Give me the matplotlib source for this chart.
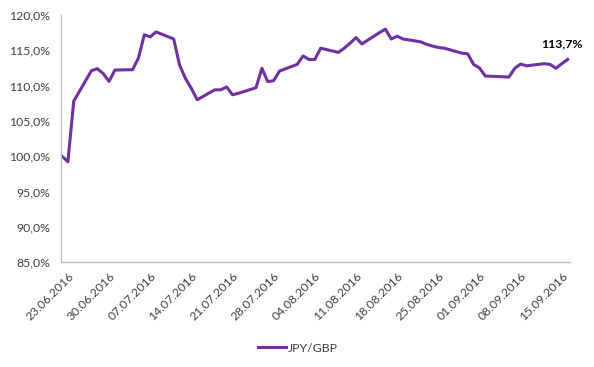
import datetime as dt
import matplotlib
matplotlib.use("Agg")
import matplotlib.pyplot as plt
from matplotlib.ticker import FuncFormatter, MultipleLocator

# JPY/GBP index, 22.06.2016 = 100%, weekdays
dates = [
    "22.06.2016", "23.06.2016", "24.06.2016", "27.06.2016", "28.06.2016",
    "29.06.2016", "30.06.2016", "01.07.2016", "04.07.2016", "05.07.2016",
    "06.07.2016", "07.07.2016", "08.07.2016", "11.07.2016", "12.07.2016",
    "13.07.2016", "14.07.2016", "15.07.2016", "18.07.2016", "19.07.2016",
    "20.07.2016", "21.07.2016", "22.07.2016", "25.07.2016", "26.07.2016",
    "27.07.2016", "28.07.2016", "29.07.2016", "01.08.2016", "02.08.2016",
    "03.08.2016", "04.08.2016", "05.08.2016", "08.08.2016", "09.08.2016",
    "10.08.2016", "11.08.2016", "12.08.2016", "15.08.2016", "16.08.2016",
    "17.08.2016", "18.08.2016", "19.08.2016", "22.08.2016", "23.08.2016",
    "24.08.2016", "25.08.2016", "26.08.2016", "29.08.2016", "30.08.2016",
    "31.08.2016", "01.09.2016", "02.09.2016", "05.09.2016", "06.09.2016",
    "07.09.2016", "08.09.2016", "09.09.2016", "12.09.2016", "13.09.2016",
    "14.09.2016", "15.09.2016", "16.09.2016",
]
values = [
    100.0, 99.2, 107.8, 112.1, 112.4,
    111.7, 110.6, 112.2, 112.25, 113.9,
    117.2, 116.9, 117.6, 116.6, 112.9,
    111.0, 109.6, 108.0, 109.4, 109.4,
    109.8, 108.7, 108.9, 109.7, 112.45,
    110.55, 110.7, 112.06, 113.0, 114.2,
    113.7, 113.7, 115.3, 114.7, 115.3,
    116.0, 116.8, 115.9, 117.5, 118.0,
    116.6, 117.0, 116.6, 116.2, 115.85,
    115.6, 115.4, 115.3, 114.6, 114.5,
    113.0, 112.5, 111.35, 111.25, 111.2,
    112.45, 113.05, 112.8, 113.1, 113.0,
    112.45, 113.1, 113.7,
]
series_name = "JPY/GBP"
last_label = "113,7%"

x = [dt.datetime.strptime(d, "%d.%m.%Y") for d in dates]
purple = "#7030A0"
axis_grey = "#BFBFBF"
text_col = "#404040"

plt.rcParams["font.family"] = ["Lato", "DejaVu Sans"]

fig = plt.figure(figsize=(5.94, 3.67), dpi=100)
ax = fig.add_axes([61 / 594, 105 / 367, 509 / 594, 247 / 367])

line, = ax.plot(x, values, color=purple, lw=2.2, solid_joinstyle="round",
                label=series_name)

ax.annotate(last_label, (x[-1], values[-1]), xytext=(-4, 7),
            textcoords="offset points", ha="center", va="bottom",
            fontsize=8.8, fontweight="bold", color="black")

ax.set_ylim(85, 120)
ax.yaxis.set_major_locator(MultipleLocator(5))
ax.yaxis.set_major_formatter(
    FuncFormatter(lambda v, p: f"{v:.1f}%".replace(".", ",")))

# weekly labels starting on 23.06.2016
start = x[0]
ax.set_xlim(start - dt.timedelta(days=0.17), start + dt.timedelta(days=86.4))
ticks = [start + dt.timedelta(days=1 + 7 * i) for i in range(13)]
ax.set_xticks(ticks)
ax.set_xticklabels([t.strftime("%d.%m.%Y") for t in ticks], rotation=45,
                   ha="right", va="top", rotation_mode="anchor")

ax.tick_params(axis="both", length=0, labelsize=8.8, labelcolor=text_col)
ax.tick_params(axis="y", pad=8)
ax.tick_params(axis="x", pad=6)

for s in ["top", "right"]:
    ax.spines[s].set_visible(False)
for s in ["left", "bottom"]:
    ax.spines[s].set_color(axis_grey)
    ax.spines[s].set_linewidth(1)

fig.legend(handles=[line], loc="center", bbox_to_anchor=(298 / 594, 1 - 348 / 367),
           frameon=False, fontsize=8.8, handlelength=2.3, handletextpad=0.2,
           labelcolor=text_col)

fig.savefig("out.png", dpi=100)
